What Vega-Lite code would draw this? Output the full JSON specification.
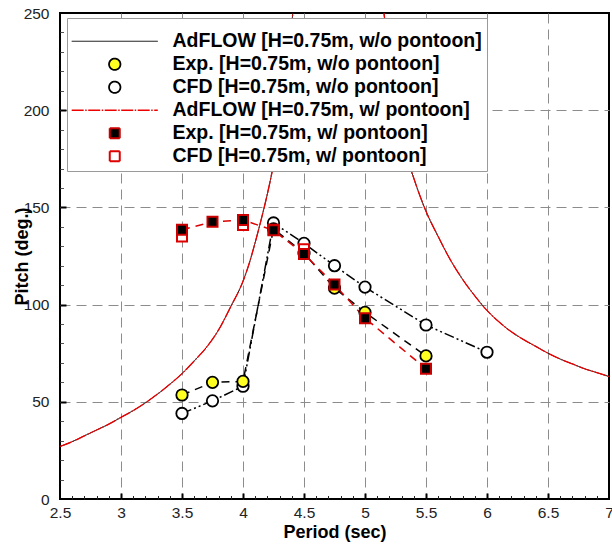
{
  "$schema": "https://vega.github.io/schema/vega-lite/v6.json",
  "width": 549,
  "height": 486,
  "autosize": {"type": "none"},
  "padding": {"left": 60, "top": 13, "right": 3, "bottom": 46},
  "background": "white",
  "config": {
    "view": {"stroke": "black", "strokeWidth": 2},
    "axis": {
      "labelFont": "Liberation Sans",
      "labelFontSize": 15.5,
      "labelColor": "#222222",
      "titleFont": "Liberation Sans",
      "titleFontSize": 18,
      "titleFontWeight": "bold",
      "titleColor": "black",
      "domain": false,
      "ticks": false,
      "grid": false,
      "labelFlush": false,
      "labelOverlap": false
    },
    "legend": {
      "orient": "none",
      "legendX": 7,
      "legendY": 5,
      "fillColor": "white",
      "strokeColor": "#9a9a9a",
      "strokeWidth": 1,
      "padding": 5,
      "labelFont": "Liberation Sans",
      "labelFontSize": 19.5,
      "labelFontWeight": "bold",
      "labelColor": "black",
      "labelLimit": 0,
      "labelOffset": 48,
      "symbolOffset": 33,
      "rowPadding": 2,
      "titleFontSize": 6,
      "titlePadding": 2.5,
      "symbolLimit": 0,
      "symbolOpacity": 1
    }
  },
  "datasets": {
    "curve": [
      {"series": "AdFLOW [H=0.75m, w/o pontoon]", "T": 2.5, "P": 27},
      {"series": "AdFLOW [H=0.75m, w/o pontoon]", "T": 2.6, "P": 29.5},
      {"series": "AdFLOW [H=0.75m, w/o pontoon]", "T": 2.7, "P": 32.5},
      {"series": "AdFLOW [H=0.75m, w/o pontoon]", "T": 2.8, "P": 35.5},
      {"series": "AdFLOW [H=0.75m, w/o pontoon]", "T": 2.9, "P": 38.5},
      {"series": "AdFLOW [H=0.75m, w/o pontoon]", "T": 3.0, "P": 42},
      {"series": "AdFLOW [H=0.75m, w/o pontoon]", "T": 3.1, "P": 45.5},
      {"series": "AdFLOW [H=0.75m, w/o pontoon]", "T": 3.2, "P": 49.5},
      {"series": "AdFLOW [H=0.75m, w/o pontoon]", "T": 3.3, "P": 54},
      {"series": "AdFLOW [H=0.75m, w/o pontoon]", "T": 3.4, "P": 59},
      {"series": "AdFLOW [H=0.75m, w/o pontoon]", "T": 3.5, "P": 64.5},
      {"series": "AdFLOW [H=0.75m, w/o pontoon]", "T": 3.6, "P": 71},
      {"series": "AdFLOW [H=0.75m, w/o pontoon]", "T": 3.7, "P": 78},
      {"series": "AdFLOW [H=0.75m, w/o pontoon]", "T": 3.8, "P": 87},
      {"series": "AdFLOW [H=0.75m, w/o pontoon]", "T": 3.9, "P": 99},
      {"series": "AdFLOW [H=0.75m, w/o pontoon]", "T": 4.0, "P": 112},
      {"series": "AdFLOW [H=0.75m, w/o pontoon]", "T": 4.05, "P": 121},
      {"series": "AdFLOW [H=0.75m, w/o pontoon]", "T": 4.1, "P": 132},
      {"series": "AdFLOW [H=0.75m, w/o pontoon]", "T": 4.15, "P": 144},
      {"series": "AdFLOW [H=0.75m, w/o pontoon]", "T": 4.2, "P": 157},
      {"series": "AdFLOW [H=0.75m, w/o pontoon]", "T": 4.25, "P": 172},
      {"series": "AdFLOW [H=0.75m, w/o pontoon]", "T": 4.3, "P": 190},
      {"series": "AdFLOW [H=0.75m, w/o pontoon]", "T": 4.35, "P": 212},
      {"series": "AdFLOW [H=0.75m, w/o pontoon]", "T": 4.4, "P": 244},
      {"series": "AdFLOW [H=0.75m, w/o pontoon]", "T": 4.45, "P": 285},
      {"series": "AdFLOW [H=0.75m, w/o pontoon]", "T": 4.5, "P": 330},
      {"series": "AdFLOW [H=0.75m, w/o pontoon]", "T": 5.05, "P": 330},
      {"series": "AdFLOW [H=0.75m, w/o pontoon]", "T": 5.1, "P": 285},
      {"series": "AdFLOW [H=0.75m, w/o pontoon]", "T": 5.15, "P": 253},
      {"series": "AdFLOW [H=0.75m, w/o pontoon]", "T": 5.2, "P": 228},
      {"series": "AdFLOW [H=0.75m, w/o pontoon]", "T": 5.25, "P": 207},
      {"series": "AdFLOW [H=0.75m, w/o pontoon]", "T": 5.3, "P": 190},
      {"series": "AdFLOW [H=0.75m, w/o pontoon]", "T": 5.35, "P": 175},
      {"series": "AdFLOW [H=0.75m, w/o pontoon]", "T": 5.4, "P": 165},
      {"series": "AdFLOW [H=0.75m, w/o pontoon]", "T": 5.5, "P": 148},
      {"series": "AdFLOW [H=0.75m, w/o pontoon]", "T": 5.6, "P": 135},
      {"series": "AdFLOW [H=0.75m, w/o pontoon]", "T": 5.7, "P": 123},
      {"series": "AdFLOW [H=0.75m, w/o pontoon]", "T": 5.8, "P": 113},
      {"series": "AdFLOW [H=0.75m, w/o pontoon]", "T": 5.9, "P": 104.5},
      {"series": "AdFLOW [H=0.75m, w/o pontoon]", "T": 6.0, "P": 97},
      {"series": "AdFLOW [H=0.75m, w/o pontoon]", "T": 6.1, "P": 91},
      {"series": "AdFLOW [H=0.75m, w/o pontoon]", "T": 6.2, "P": 86},
      {"series": "AdFLOW [H=0.75m, w/o pontoon]", "T": 6.3, "P": 82},
      {"series": "AdFLOW [H=0.75m, w/o pontoon]", "T": 6.4, "P": 78.5},
      {"series": "AdFLOW [H=0.75m, w/o pontoon]", "T": 6.5, "P": 75},
      {"series": "AdFLOW [H=0.75m, w/o pontoon]", "T": 6.6, "P": 72},
      {"series": "AdFLOW [H=0.75m, w/o pontoon]", "T": 6.7, "P": 69.5},
      {"series": "AdFLOW [H=0.75m, w/o pontoon]", "T": 6.8, "P": 67},
      {"series": "AdFLOW [H=0.75m, w/o pontoon]", "T": 6.9, "P": 65},
      {"series": "AdFLOW [H=0.75m, w/o pontoon]", "T": 7.0, "P": 63},
      {"series": "AdFLOW [H=0.75m, w/ pontoon]", "T": 2.5, "P": 27},
      {"series": "AdFLOW [H=0.75m, w/ pontoon]", "T": 2.6, "P": 29.5},
      {"series": "AdFLOW [H=0.75m, w/ pontoon]", "T": 2.7, "P": 32.5},
      {"series": "AdFLOW [H=0.75m, w/ pontoon]", "T": 2.8, "P": 35.5},
      {"series": "AdFLOW [H=0.75m, w/ pontoon]", "T": 2.9, "P": 38.5},
      {"series": "AdFLOW [H=0.75m, w/ pontoon]", "T": 3.0, "P": 42},
      {"series": "AdFLOW [H=0.75m, w/ pontoon]", "T": 3.1, "P": 45.5},
      {"series": "AdFLOW [H=0.75m, w/ pontoon]", "T": 3.2, "P": 49.5},
      {"series": "AdFLOW [H=0.75m, w/ pontoon]", "T": 3.3, "P": 54},
      {"series": "AdFLOW [H=0.75m, w/ pontoon]", "T": 3.4, "P": 59},
      {"series": "AdFLOW [H=0.75m, w/ pontoon]", "T": 3.5, "P": 64.5},
      {"series": "AdFLOW [H=0.75m, w/ pontoon]", "T": 3.6, "P": 71},
      {"series": "AdFLOW [H=0.75m, w/ pontoon]", "T": 3.7, "P": 78},
      {"series": "AdFLOW [H=0.75m, w/ pontoon]", "T": 3.8, "P": 87},
      {"series": "AdFLOW [H=0.75m, w/ pontoon]", "T": 3.9, "P": 99},
      {"series": "AdFLOW [H=0.75m, w/ pontoon]", "T": 4.0, "P": 112},
      {"series": "AdFLOW [H=0.75m, w/ pontoon]", "T": 4.05, "P": 121},
      {"series": "AdFLOW [H=0.75m, w/ pontoon]", "T": 4.1, "P": 132},
      {"series": "AdFLOW [H=0.75m, w/ pontoon]", "T": 4.15, "P": 144},
      {"series": "AdFLOW [H=0.75m, w/ pontoon]", "T": 4.2, "P": 157},
      {"series": "AdFLOW [H=0.75m, w/ pontoon]", "T": 4.25, "P": 172},
      {"series": "AdFLOW [H=0.75m, w/ pontoon]", "T": 4.3, "P": 190},
      {"series": "AdFLOW [H=0.75m, w/ pontoon]", "T": 4.35, "P": 212},
      {"series": "AdFLOW [H=0.75m, w/ pontoon]", "T": 4.4, "P": 244},
      {"series": "AdFLOW [H=0.75m, w/ pontoon]", "T": 4.45, "P": 285},
      {"series": "AdFLOW [H=0.75m, w/ pontoon]", "T": 4.5, "P": 330},
      {"series": "AdFLOW [H=0.75m, w/ pontoon]", "T": 5.05, "P": 330},
      {"series": "AdFLOW [H=0.75m, w/ pontoon]", "T": 5.1, "P": 285},
      {"series": "AdFLOW [H=0.75m, w/ pontoon]", "T": 5.15, "P": 253},
      {"series": "AdFLOW [H=0.75m, w/ pontoon]", "T": 5.2, "P": 228},
      {"series": "AdFLOW [H=0.75m, w/ pontoon]", "T": 5.25, "P": 207},
      {"series": "AdFLOW [H=0.75m, w/ pontoon]", "T": 5.3, "P": 190},
      {"series": "AdFLOW [H=0.75m, w/ pontoon]", "T": 5.35, "P": 175},
      {"series": "AdFLOW [H=0.75m, w/ pontoon]", "T": 5.4, "P": 165},
      {"series": "AdFLOW [H=0.75m, w/ pontoon]", "T": 5.5, "P": 148},
      {"series": "AdFLOW [H=0.75m, w/ pontoon]", "T": 5.6, "P": 135},
      {"series": "AdFLOW [H=0.75m, w/ pontoon]", "T": 5.7, "P": 123},
      {"series": "AdFLOW [H=0.75m, w/ pontoon]", "T": 5.8, "P": 113},
      {"series": "AdFLOW [H=0.75m, w/ pontoon]", "T": 5.9, "P": 104.5},
      {"series": "AdFLOW [H=0.75m, w/ pontoon]", "T": 6.0, "P": 97},
      {"series": "AdFLOW [H=0.75m, w/ pontoon]", "T": 6.1, "P": 91},
      {"series": "AdFLOW [H=0.75m, w/ pontoon]", "T": 6.2, "P": 86},
      {"series": "AdFLOW [H=0.75m, w/ pontoon]", "T": 6.3, "P": 82},
      {"series": "AdFLOW [H=0.75m, w/ pontoon]", "T": 6.4, "P": 78.5},
      {"series": "AdFLOW [H=0.75m, w/ pontoon]", "T": 6.5, "P": 75},
      {"series": "AdFLOW [H=0.75m, w/ pontoon]", "T": 6.6, "P": 72},
      {"series": "AdFLOW [H=0.75m, w/ pontoon]", "T": 6.7, "P": 69.5},
      {"series": "AdFLOW [H=0.75m, w/ pontoon]", "T": 6.8, "P": 67},
      {"series": "AdFLOW [H=0.75m, w/ pontoon]", "T": 6.9, "P": 65},
      {"series": "AdFLOW [H=0.75m, w/ pontoon]", "T": 7.0, "P": 63}
    ],
    "pts": [
      {"series": "CFD [H=0.75m, w/o pontoon]", "T": 3.5, "P": 44},
      {"series": "CFD [H=0.75m, w/o pontoon]", "T": 3.75, "P": 50.5},
      {"series": "CFD [H=0.75m, w/o pontoon]", "T": 4.0, "P": 58},
      {"series": "CFD [H=0.75m, w/o pontoon]", "T": 4.25, "P": 142},
      {"series": "CFD [H=0.75m, w/o pontoon]", "T": 4.5, "P": 131.5},
      {"series": "CFD [H=0.75m, w/o pontoon]", "T": 4.75, "P": 120},
      {"series": "CFD [H=0.75m, w/o pontoon]", "T": 5.0, "P": 109},
      {"series": "CFD [H=0.75m, w/o pontoon]", "T": 5.5, "P": 89.5},
      {"series": "CFD [H=0.75m, w/o pontoon]", "T": 6.0, "P": 75.5},
      {"series": "Exp. [H=0.75m, w/o pontoon]", "T": 3.5, "P": 53.5},
      {"series": "Exp. [H=0.75m, w/o pontoon]", "T": 3.75, "P": 60},
      {"series": "Exp. [H=0.75m, w/o pontoon]", "T": 4.0, "P": 60.5},
      {"series": "Exp. [H=0.75m, w/o pontoon]", "T": 4.25, "P": 139},
      {"series": "Exp. [H=0.75m, w/o pontoon]", "T": 4.5, "P": 126.5},
      {"series": "Exp. [H=0.75m, w/o pontoon]", "T": 4.75, "P": 108.5},
      {"series": "Exp. [H=0.75m, w/o pontoon]", "T": 5.0, "P": 96},
      {"series": "Exp. [H=0.75m, w/o pontoon]", "T": 5.5, "P": 73.6},
      {"series": "CFD [H=0.75m, w/ pontoon]", "T": 3.5, "P": 135},
      {"series": "CFD [H=0.75m, w/ pontoon]", "T": 4.0, "P": 141},
      {"series": "CFD [H=0.75m, w/ pontoon]", "T": 4.25, "P": 138.5},
      {"series": "CFD [H=0.75m, w/ pontoon]", "T": 4.5, "P": 128.5},
      {"series": "Exp. [H=0.75m, w/ pontoon]", "T": 3.5, "P": 138.5},
      {"series": "Exp. [H=0.75m, w/ pontoon]", "T": 3.75, "P": 142.6},
      {"series": "Exp. [H=0.75m, w/ pontoon]", "T": 4.0, "P": 143.5},
      {"series": "Exp. [H=0.75m, w/ pontoon]", "T": 4.25, "P": 138.2},
      {"series": "Exp. [H=0.75m, w/ pontoon]", "T": 4.5, "P": 126},
      {"series": "Exp. [H=0.75m, w/ pontoon]", "T": 4.75, "P": 110.3},
      {"series": "Exp. [H=0.75m, w/ pontoon]", "T": 5.0, "P": 93},
      {"series": "Exp. [H=0.75m, w/ pontoon]", "T": 5.5, "P": 67}
    ]
  },
  "resolve": {"axis": {"x": "independent", "y": "independent"}},
  "layer": [
    {
      "data": {"name": "curve"},
      "mark": {"type": "line", "clip": true, "interpolate": "monotone"},
      "encoding": {
        "x": {"field": "T", "type": "quantitative", "scale": {"domain": [2.5, 7], "nice": false, "zero": false},
          "axis": {"orient": "bottom", "values": [2.5, 3, 3.5, 4, 4.5, 5, 5.5, 6, 6.5, 7], "format": "~g", "labelPadding": 6, "title": "Period (sec)", "titleX": 274.5, "titleY": 33, "titleBaseline": "middle", "titleAlign": "center"}},
        "y": {"field": "P", "type": "quantitative", "scale": {"domain": [0, 250], "nice": false},
          "axis": {"orient": "left", "values": [0, 50, 100, 150, 200, 250], "labelPadding": 11, "title": "Pitch (deg.)", "titleX": -38, "titleY": 243, "titleAngle": 270, "titleBaseline": "middle", "titleAlign": "center"}},
        "stroke": {"field": "series", "type": "nominal", "title": " ",
          "scale": {"domain": ["AdFLOW [H=0.75m, w/o pontoon]", "Exp. [H=0.75m, w/o pontoon]", "CFD [H=0.75m, w/o pontoon]", "AdFLOW [H=0.75m, w/ pontoon]", "Exp. [H=0.75m, w/ pontoon]", "CFD [H=0.75m, w/ pontoon]"],
            "range": ["#000000", "#000000", "#000000", "#ee0000", "#cc0000", "#dd0000"]}},
        "strokeDash": {"field": "series", "type": "nominal", "title": " ",
          "scale": {"type": "ordinal", "domain": ["AdFLOW [H=0.75m, w/o pontoon]", "Exp. [H=0.75m, w/o pontoon]", "CFD [H=0.75m, w/o pontoon]", "AdFLOW [H=0.75m, w/ pontoon]", "Exp. [H=0.75m, w/ pontoon]", "CFD [H=0.75m, w/ pontoon]"],
            "range": [[1, 0], [1, 0], [1, 0], [12, 1.5, 1.5, 1.5], [1, 0], [1, 0]]}},
        "strokeWidth": {"field": "series", "type": "nominal", "title": " ",
          "scale": {"type": "ordinal", "domain": ["AdFLOW [H=0.75m, w/o pontoon]", "Exp. [H=0.75m, w/o pontoon]", "CFD [H=0.75m, w/o pontoon]", "AdFLOW [H=0.75m, w/ pontoon]", "Exp. [H=0.75m, w/ pontoon]", "CFD [H=0.75m, w/ pontoon]"],
            "range": [1, 1.8, 1.8, 1.3, 2, 2]}}
      }
    },
    {
      "data": {"name": "pts"},
      "transform": [{"filter": {"field": "series", "equal": "Exp. [H=0.75m, w/o pontoon]"}}],
      "mark": {"type": "line", "stroke": "black", "strokeWidth": 1.5, "strokeDash": [8, 6]},
      "encoding": {
        "x": {"field": "T", "type": "quantitative", "axis": null},
        "y": {"field": "P", "type": "quantitative", "axis": null}
      }
    },
    {
      "data": {"name": "pts"},
      "transform": [{"filter": {"field": "series", "equal": "CFD [H=0.75m, w/o pontoon]"}}],
      "mark": {"type": "line", "stroke": "black", "strokeWidth": 1.5, "strokeDash": [10, 3, 2, 3, 2, 3]},
      "encoding": {
        "x": {"field": "T", "type": "quantitative", "axis": null},
        "y": {"field": "P", "type": "quantitative", "axis": null}
      }
    },
    {
      "data": {"name": "pts"},
      "transform": [{"filter": {"field": "series", "equal": "Exp. [H=0.75m, w/ pontoon]"}}],
      "mark": {"type": "line", "stroke": "#dd0000", "strokeWidth": 1.5, "strokeDash": [8, 6]},
      "encoding": {
        "x": {"field": "T", "type": "quantitative", "axis": null},
        "y": {"field": "P", "type": "quantitative", "axis": null}
      }
    },
    {
      "data": {"name": "pts"},
      "mark": {"type": "point", "opacity": 1, "fillOpacity": 1, "strokeOpacity": 1},
      "encoding": {
        "x": {"field": "T", "type": "quantitative", "axis": null},
        "y": {"field": "P", "type": "quantitative", "axis": null},
        "stroke": {"field": "series", "type": "nominal", "title": " ",
          "scale": {"domain": ["AdFLOW [H=0.75m, w/o pontoon]", "Exp. [H=0.75m, w/o pontoon]", "CFD [H=0.75m, w/o pontoon]", "AdFLOW [H=0.75m, w/ pontoon]", "Exp. [H=0.75m, w/ pontoon]", "CFD [H=0.75m, w/ pontoon]"],
            "range": ["#000000", "#000000", "#000000", "#ee0000", "#cc0000", "#dd0000"]}},
        "fill": {"field": "series", "type": "nominal", "title": " ",
          "scale": {"domain": ["AdFLOW [H=0.75m, w/o pontoon]", "Exp. [H=0.75m, w/o pontoon]", "CFD [H=0.75m, w/o pontoon]", "AdFLOW [H=0.75m, w/ pontoon]", "Exp. [H=0.75m, w/ pontoon]", "CFD [H=0.75m, w/ pontoon]"],
            "range": ["transparent", "#ffff22", "#ffffff", "transparent", "#000000", "#ffffff"]}},
        "shape": {"field": "series", "type": "nominal", "title": " ",
          "scale": {"domain": ["AdFLOW [H=0.75m, w/o pontoon]", "Exp. [H=0.75m, w/o pontoon]", "CFD [H=0.75m, w/o pontoon]", "AdFLOW [H=0.75m, w/ pontoon]", "Exp. [H=0.75m, w/ pontoon]", "CFD [H=0.75m, w/ pontoon]"],
            "range": ["M-7.55,0H7.55", "circle", "circle", "M-7.55,0H7.55", "square", "square"]}},
        "size": {"field": "series", "type": "nominal", "title": " ",
          "scale": {"type": "ordinal", "domain": ["AdFLOW [H=0.75m, w/o pontoon]", "Exp. [H=0.75m, w/o pontoon]", "CFD [H=0.75m, w/o pontoon]", "AdFLOW [H=0.75m, w/ pontoon]", "Exp. [H=0.75m, w/ pontoon]", "CFD [H=0.75m, w/ pontoon]"],
            "range": [130, 130, 130, 130, 100, 100]}},
        "strokeWidth": {"field": "series", "type": "nominal", "title": " ",
          "scale": {"type": "ordinal", "domain": ["AdFLOW [H=0.75m, w/o pontoon]", "Exp. [H=0.75m, w/o pontoon]", "CFD [H=0.75m, w/o pontoon]", "AdFLOW [H=0.75m, w/ pontoon]", "Exp. [H=0.75m, w/ pontoon]", "CFD [H=0.75m, w/ pontoon]"],
            "range": [1, 1.8, 1.8, 1.3, 2, 2]}}
      }
    },
    {
      "data": {"name": "pts"},
      "mark": {"type": "point", "opacity": 0},
      "encoding": {
        "x": {"field": "T", "type": "quantitative",
          "axis": {"orient": "bottom", "values": [3, 3.5, 4, 4.5, 5, 5.5, 6, 6.5], "labels": false, "ticks": true, "tickSize": -6, "tickWidth": 2, "tickColor": "black", "grid": true, "gridDash": [10, 6], "gridColor": "#8c8c8c", "gridWidth": 1, "title": null}},
        "y": {"field": "P", "type": "quantitative",
          "axis": {"orient": "left", "values": [50, 100, 150, 200], "labels": false, "ticks": true, "tickSize": -6, "tickWidth": 2, "tickColor": "black", "grid": true, "gridDash": [10, 6], "gridColor": "#8c8c8c", "gridWidth": 1, "title": null}}
      }
    },
    {
      "data": {"name": "pts"},
      "mark": {"type": "point", "opacity": 0},
      "encoding": {
        "x": {"field": "T", "type": "quantitative",
          "axis": {"orient": "bottom", "values": [2.6, 2.7, 2.8, 2.9, 3.1, 3.2, 3.3, 3.4, 3.6, 3.7, 3.8, 3.9, 4.1, 4.2, 4.3, 4.4, 4.6, 4.7, 4.8, 4.9, 5.1, 5.2, 5.3, 5.4, 5.6, 5.7, 5.8, 5.9, 6.1, 6.2, 6.3, 6.4, 6.6, 6.7, 6.8, 6.9], "labels": false, "ticks": true, "tickSize": -3.5, "tickWidth": 1, "tickColor": "#222222", "grid": false, "title": null}},
        "y": {"field": "P", "type": "quantitative",
          "axis": {"orient": "left", "values": [10, 20, 30, 40, 60, 70, 80, 90, 110, 120, 130, 140, 160, 170, 180, 190, 210, 220, 230, 240], "labels": false, "ticks": true, "tickSize": -3.5, "tickWidth": 1, "tickColor": "#555555", "grid": false, "title": null}}
      }
    }
  ]
}
